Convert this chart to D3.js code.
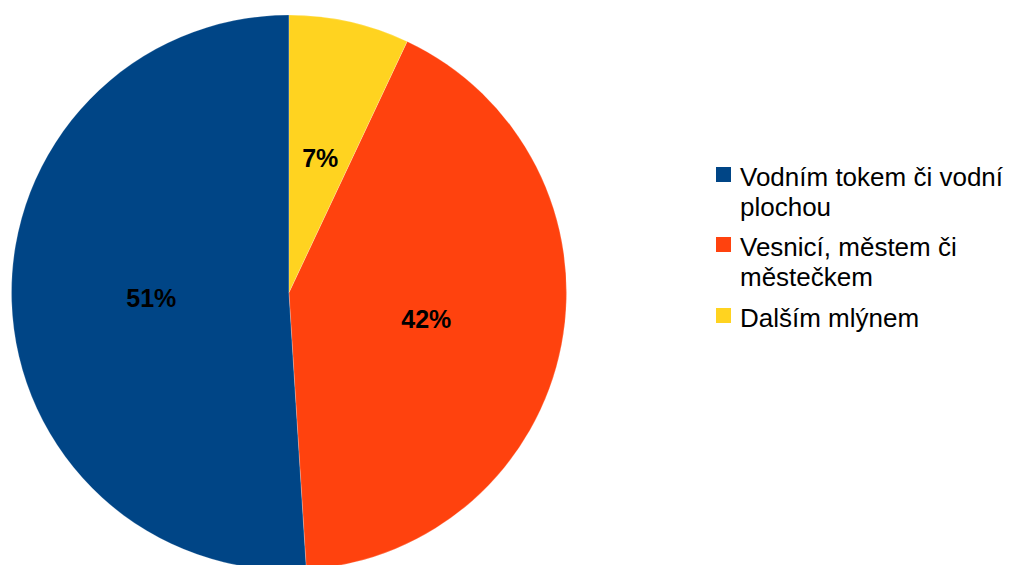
<!DOCTYPE html>
<html>
<head>
<meta charset="utf-8">
<script src="https://cdn.jsdelivr.net/npm/d3@7"></script>
<style>
  html, body { margin: 0; padding: 0; background: #ffffff; }
  svg { display: block; }
</style>
</head>
<body>
<svg id="chart" width="1009" height="565"></svg>
<script>
const categories = ["Vodním tokem či vodní plochou", "Vesnicí, městem či městečkem", "Dalším mlýnem"];
const legendLines = [["Vodním tokem či vodní", "plochou"], ["Vesnicí, městem či", "městečkem"], ["Dalším mlýnem"]];
const values = [51, 42, 7];
const colors = ["#004586", "#ff420e", "#ffd320"];

const svg = d3.select("#chart");
const cx = 289, cy = 292.5, r = 277.5;

const pie = d3.pie().sort(null).value(d => d).startAngle(0).endAngle(-2 * Math.PI);
const arcs = pie(values);
const arc = d3.arc().innerRadius(0).outerRadius(r);

const g = svg.append("g").attr("transform", `translate(${cx},${cy})`);
g.selectAll("path").data(arcs).enter().append("path")
  .attr("d", arc)
  .attr("fill", (d, i) => colors[i])
  .attr("stroke", "rgba(255,255,255,0.35)")
  .attr("stroke-width", 0.6);

g.selectAll("text.lbl").data(arcs).enter().append("text")
  .attr("class", "lbl")
  .attr("transform", d => { const c = arc.centroid(d); return `translate(${c[0] + 1},${c[1] + 1})`; })
  .attr("text-anchor", "middle")
  .attr("dy", "0.36em")
  .attr("font-family", "'Liberation Sans', Arial, sans-serif")
  .attr("font-weight", "bold")
  .attr("font-size", 25)
  .attr("fill", "#000")
  .text(d => d.data + "%");

const baselines = [186, 256, 327];
const lg = svg.append("g");
legendLines.forEach((lines, i) => {
  lg.append("rect")
    .attr("x", 716).attr("y", baselines[i] - 19)
    .attr("width", 15).attr("height", 15)
    .attr("fill", colors[i]);
  const t = lg.append("text")
    .attr("x", 740).attr("y", baselines[i])
    .attr("font-family", "'Liberation Sans', Arial, sans-serif")
    .attr("font-size", 26)
    .attr("fill", "#000");
  lines.forEach((ln, j) => {
    t.append("tspan").attr("x", 740).attr("dy", j === 0 ? 0 : 30).text(ln);
  });
});
</script>
</body>
</html>
